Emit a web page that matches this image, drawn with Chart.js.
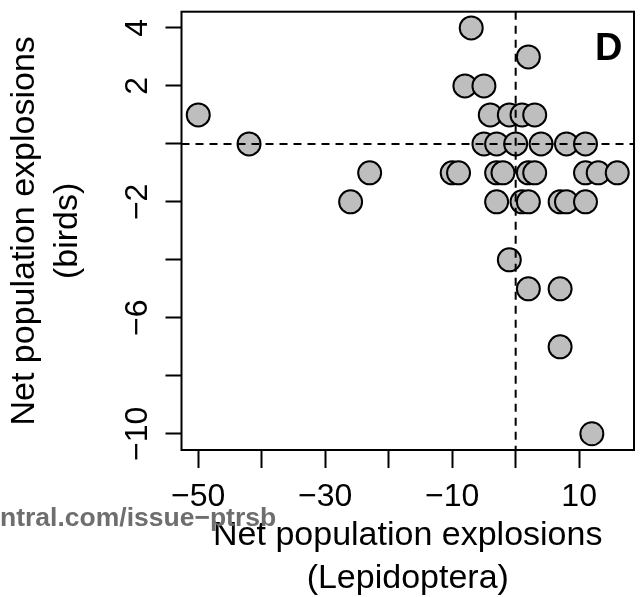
<!DOCTYPE html>
<html>
<head>
<meta charset="utf-8">
<script src="https://cdn.jsdelivr.net/npm/chart.js@4/dist/chart.umd.min.js"></script>
<style>
  html, body { margin: 0; padding: 0; background: #fff; }
  canvas { display: block; }
</style>
</head>
<body>
<canvas id="explosionsChart" width="643" height="597"></canvas>
<script>
// Net population explosions per site: Lepidoptera on x, birds on y
const lepidoptera = [
  -7,
  2,
  -8, -5,
  -50, -4, -1, 1, 3,
  -42, -5, -3, 0, 4, 8, 11,
  -23, -10, -9, -3, -2, 2, 3, 11, 13, 16,
  -26, -3, 1, 2, 7, 8, 11,
  -1,
  2, 7,
  7,
  12
];
const birds = [
  4,
  3,
  2, 2,
  1, 1, 1, 1, 1,
  0, 0, 0, 0, 0, 0, 0,
  -1, -1, -1, -1, -1, -1, -1, -1, -1, -1,
  -2, -2, -2, -2, -2, -2, -2,
  -4,
  -5, -5,
  -7,
  -10
];

const xTicks = [-50, -40, -30, -20, -10, 0, 10];
const xTickLabels = ['\u221250', '', '\u221230', '', '\u221210', '', '10'];
const yTicks = [-10, -8, -6, -4, -2, 0, 2, 4];
const yTickLabels = ['\u221210', '', '\u22126', '', '\u22122', '', '2', '4'];

const xTitle = ['Net population explosions', '(Lepidoptera)'];
const yTitle = ['Net population explosions', '(birds)'];
const panelLetter = 'D';
const sourceNote = 'ntral.com/issue\u2212ptrsb';

const FONT = "'Liberation Sans', Arial, Helvetica, sans-serif";

const points = lepidoptera.map((v, i) => ({ x: v, y: birds[i] }));

// dashed zero lines, frame, rotated y labels and extra text
const overlay = {
  id: 'overlay',
  afterDatasetsDraw(chart) {
    const { ctx, chartArea: a, scales: { x, y } } = chart;
    const x0 = x.getPixelForValue(0);
    const y0 = y.getPixelForValue(0);
    ctx.save();
    ctx.strokeStyle = '#000';
    ctx.lineWidth = 2;
    ctx.setLineDash([8, 6]);
    ctx.beginPath();
    ctx.moveTo(x0, a.top);
    ctx.lineTo(x0, a.bottom);
    ctx.moveTo(a.left, y0);
    ctx.lineTo(a.right, y0);
    ctx.stroke();
    ctx.restore();
  },
  afterDraw(chart) {
    const { ctx, chartArea: a, scales: { y } } = chart;
    ctx.save();
    ctx.strokeStyle = '#000';
    ctx.lineWidth = 2;
    ctx.strokeRect(a.left, a.top, a.right - a.left, a.bottom - a.top);

    ctx.fillStyle = '#000';
    ctx.font = '32px ' + FONT;
    ctx.textAlign = 'center';
    ctx.textBaseline = 'alphabetic';
    yTicks.forEach((v, i) => {
      if (!yTickLabels[i]) return;
      ctx.save();
      ctx.translate(147, y.getPixelForValue(v));
      ctx.rotate(-Math.PI / 2);
      ctx.fillText(yTickLabels[i], 0, 0);
      ctx.restore();
    });

    ctx.font = 'bold 38px ' + FONT;
    ctx.textAlign = 'left';
    ctx.fillText(panelLetter, 595, 60);

    ctx.font = 'bold 26.5px ' + FONT;
    ctx.fillStyle = '#6e6e6e';
    ctx.fillText(sourceNote, 0, 526);
    ctx.restore();
  }
};

new Chart(document.getElementById('explosionsChart'), {
  type: 'scatter',
  data: {
    datasets: [{
      data: points,
      backgroundColor: '#bebebe',
      borderColor: '#000',
      borderWidth: 2,
      pointRadius: 11.5,
      pointHoverRadius: 11.5
    }]
  },
  options: {
    responsive: false,
    devicePixelRatio: 1,
    animation: false,
    layout: { autoPadding: false, padding: { left: 0, right: 9, top: 11.7, bottom: 0 } },
    plugins: { legend: { display: false }, tooltip: { enabled: false } },
    scales: {
      x: {
        type: 'linear',
        min: -52.64,
        max: 18.64,
        border: { display: false },
        grid: { drawOnChartArea: false, drawTicks: true, tickLength: 18, tickColor: '#000', tickWidth: 2 },
        afterBuildTicks: scale => { scale.ticks = xTicks.map(v => ({ value: v })); },
        afterFit: scale => {
          scale.height = 147;
          scale.paddingLeft = 0;
          scale.paddingRight = 0;
        },
        ticks: {
          autoSkip: false,
          maxRotation: 0,
          padding: 10,
          color: '#000',
          font: { family: FONT, size: 32, lineHeight: 1.2 },
          callback: (value, i) => xTickLabels[i]
        },
        title: {
          display: true,
          text: xTitle,
          color: '#000',
          font: { family: FONT, size: 34, lineHeight: 1.256 },
          padding: { top: 0, bottom: -2.8 }
        }
      },
      y: {
        type: 'linear',
        min: -10.56,
        max: 4.56,
        border: { display: false },
        grid: { drawOnChartArea: false, drawTicks: true, tickLength: 16, tickColor: '#000', tickWidth: 2 },
        afterBuildTicks: scale => { scale.ticks = yTicks.map(v => ({ value: v })); },
        afterFit: scale => {
          scale.width = 181.5;
          scale.paddingTop = 0;
          scale.paddingBottom = 0;
        },
        ticks: {
          autoSkip: false,
          callback: () => ''
        },
        title: {
          display: true,
          text: yTitle,
          color: '#000',
          font: { family: FONT, size: 34, lineHeight: 1.27 },
          padding: { top: 3, bottom: 0 }
        }
      }
    }
  },
  plugins: [overlay]
});
</script>
</body>
</html>
